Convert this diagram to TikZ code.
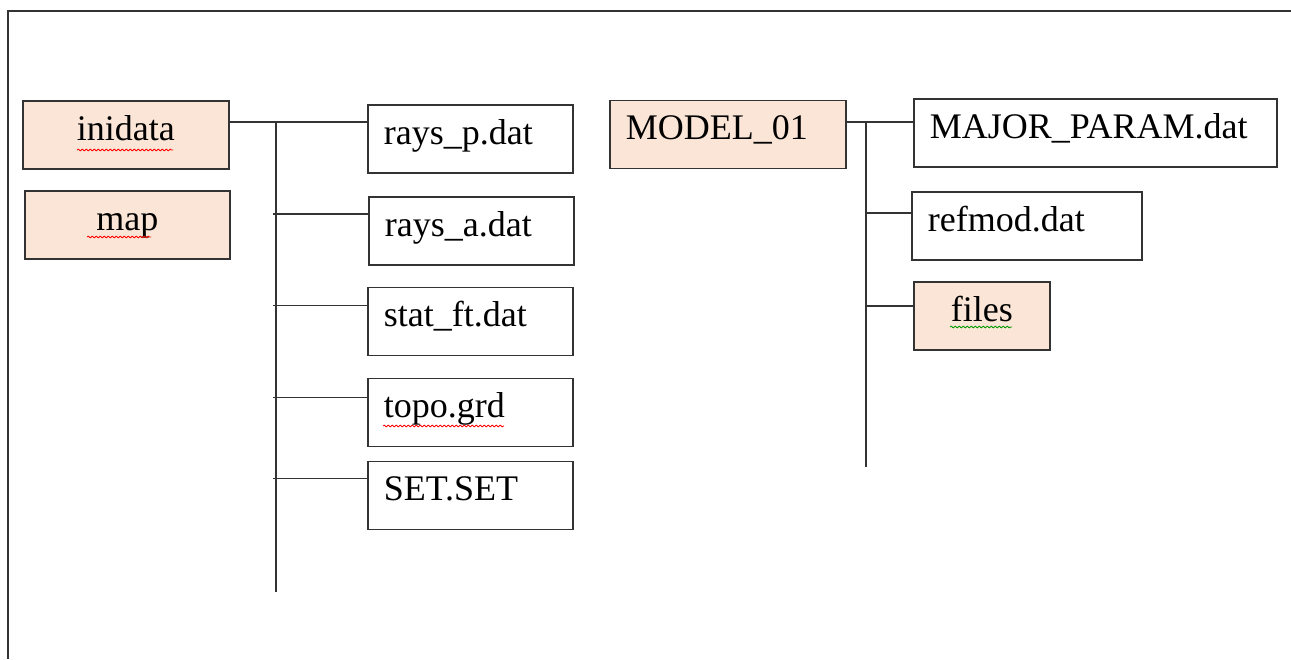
\documentclass[tikz,border=0pt]{standalone}
\usepackage{fontspec}
\setmainfont{Liberation Serif}
\usetikzlibrary{decorations.pathmorphing}
\definecolor{peach}{HTML}{FBE5D6}
\definecolor{ink}{HTML}{333333}
\tikzset{
  box/.style={draw=ink, line width=1.7pt, minimum height=68pt, inner xsep=16pt, inner ysep=0pt,
    align=left, text height=1.2em, text depth=0.2em, anchor=west,
    font=\fontsize{36}{40}\selectfont},
  folder/.style={box, fill=peach},
  wire/.style={draw=ink, line width=1.7pt},
  squig/.style={draw=red, line width=0.8pt, decorate, decoration={snake, amplitude=0.9pt, segment length=4pt}},
  squiggreen/.style={squig, draw=green!60!black},
}
\begin{document}
\begin{tikzpicture}[x=1pt,y=-1pt]
\useasboundingbox (0,0) rectangle (1291,659);
% page frame (top and left)
\draw[wire, line width=1.2pt] (1291,11) -- (8,11) -- (8,659);

% left tree
\node[folder, text width=174pt, align=center] (inidata) at (22,135) {inidata};
\node[folder, text width=173pt, align=center] (map) at (24,225) {map};

\node[box, text width=173pt] (raysp) at (367,139) {rays\_p.dat};
\node[box, text width=173pt] (raysa) at (368,231) {rays\_a.dat};
\node[box, text width=173pt] (statft) at (367,321.5) {stat\_ft.dat};
\node[box, text width=173pt] (topo) at (367,412.5) {topo.grd};
\node[box, text width=173pt] (setset) at (367,495.5) {SET.SET};

\coordinate (t1top) at (276,122);
\coordinate (t1bot) at (276,592);
\draw[wire] (inidata.east |- t1top) -- ([yshift=17pt]raysp.west);
\draw[wire] (t1top) -- (t1bot);
\draw[wire] ([yshift=17pt]raysa.west) coordinate (b2) -- ([xshift=-3pt]b2 -| t1top);
\draw[wire] ([yshift=16pt]statft.west) coordinate (b3) -- ([xshift=-3pt]b3 -| t1top);
\draw[wire] ([yshift=15pt]topo.west) coordinate (b4) -- ([xshift=-3pt]b4 -| t1top);
\draw[wire] ([yshift=17pt]setset.west) coordinate (b5) -- ([xshift=-3pt]b5 -| t1top);

% right tree
\node[folder, text width=204pt, inner xsep=16pt] (model) at (609,134.5) {MODEL\_01};
\node[box, text width=331pt] (major) at (913,133) {MAJOR\_PARAM.dat};
\node[box, text width=198pt] (refmod) at (911,226) {refmod.dat};
\node[folder, text width=104pt, align=center] (files) at (913,316) {files};

\coordinate (t2top) at (866,122);
\coordinate (t2bot) at (866,467);
\draw[wire] (model.east |- t2top) -- (major.west |- t2top);
\draw[wire] (t2top) -- (t2bot);
\draw[wire] ([yshift=13pt]refmod.west) coordinate (c2) -- (c2 -| t2top);
\draw[wire] ([yshift=10pt]files.west) coordinate (c3) -- (c3 -| t2top);

% spell-check underlines
\draw[squig] (77,150) -- (173,150);
\draw[squig] (87,237) -- (151,237);
\draw[squig] (383,426) -- (504,426);
\draw[squiggreen] (950,327) -- (1012,327);
\end{tikzpicture}
\end{document}
